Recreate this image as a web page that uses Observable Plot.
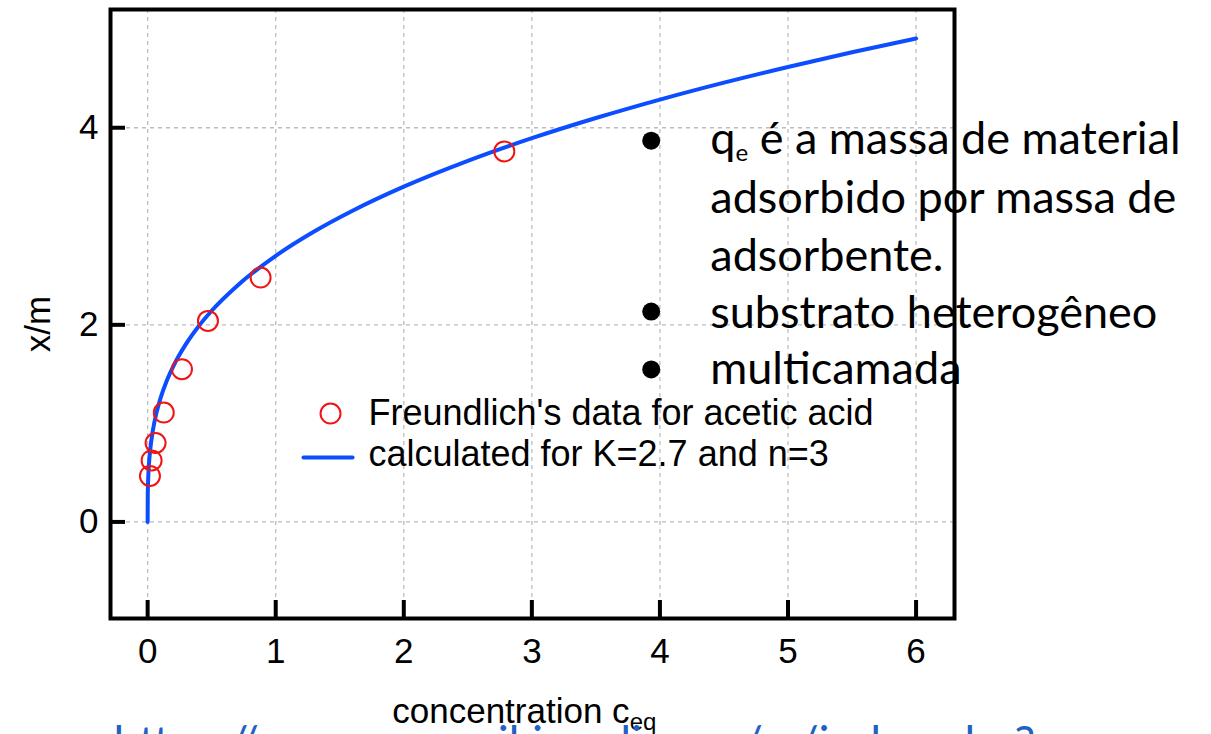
<!DOCTYPE html>
<html>
<head>
<meta charset="utf-8">
<script src="https://cdn.jsdelivr.net/npm/d3@7"></script>
<script src="https://cdn.jsdelivr.net/npm/@observablehq/plot@0.6"></script>
<style>
  html, body { margin: 0; padding: 0; background: #fff; overflow: hidden; }
  #chart svg { display: block; }
</style>
</head>
<body>
<div id="chart"></div>
<script>
// Freundlich's data for acetic acid (red circles)
const cEq = [0.018, 0.031, 0.062, 0.126, 0.268, 0.471, 0.882, 2.785];
const xOverM = [0.467, 0.624, 0.801, 1.11, 1.55, 2.04, 2.48, 3.76];

// Calculated curve (K=2.7, n=3)
const curveX = [0, 0.001, 0.003, 0.005, 0.01, 0.02, 0.04, 0.07, 0.1, 0.15, 0.2, 0.3, 0.4, 0.5, 0.7, 1, 1.3, 1.6, 2, 2.5, 3, 3.5, 4, 4.5, 5, 5.5, 6];
const curveY = [0, 0.27, 0.389, 0.462, 0.582, 0.733, 0.923, 1.113, 1.253, 1.435, 1.579, 1.807, 1.989, 2.143, 2.397, 2.7, 2.947, 3.158, 3.402, 3.664, 3.894, 4.099, 4.286, 4.458, 4.617, 4.766, 4.906];

// Axis ticks
const xTicks = [0, 1, 2, 3, 4, 5, 6];
const yTicks = [0, 2, 4];

// Texts
const legendLabels = ["Freundlich's data for acetic acid", "calculated for K=2.7 and n=3"];
const bulletLines = ["q_{e} é a massa de material", "adsorbido por massa de", "adsorbente.", "substrato heterogêneo", "multicamada"];
const xLabel = "concentration c_{eq}";
const yLabel = "x/m";
const urlText = "https://commons.wikimedia.org/w/index.php?";

const points = cEq.map((c, i) => ({c, q: xOverM[i]}));
const curve = curveX.map((c, i) => ({c, q: curveY[i]}));

const blue = "#0b4dff";
const red = "#f01414";
const bulletY = [3.737, 3.139, 2.551, 1.973, 1.395];
const bulletDotY = [3.869, 2.135, 1.547];

const plot = Plot.plot({
  width: 1211,
  height: 734,
  marginLeft: 110,
  marginRight: 257,
  marginTop: 9,
  marginBottom: 116,
  x: {domain: [-0.29, 6.3]},
  y: {domain: [-0.98, 5.2]},
  style: {fontFamily: "'Liberation Sans', Arial, sans-serif", fontSize: "35px", background: "#fff", overflow: "visible"},
  marks: [
    Plot.ruleX(xTicks, {stroke: "#bdbdbd", strokeWidth: 1.3, strokeDasharray: "4,4"}),
    Plot.ruleY(yTicks, {stroke: "#bdbdbd", strokeWidth: 1.3, strokeDasharray: "4,4"}),
    Plot.line(curve, {x: "c", y: "q", stroke: blue, strokeWidth: 4, curve: "monotone-x"}),
    Plot.dot(points, {x: "c", y: "q", r: 10, stroke: red, strokeWidth: 2, fill: "none"}),
    // legend
    Plot.dot([legendLabels[0]], {x: 1.428, y: 1.10, r: 10, stroke: red, strokeWidth: 2, fill: "none"}),
    Plot.line([[1.217, 0.654], [1.6, 0.654]], {stroke: blue, strokeWidth: 4}),
    Plot.text([legendLabels[0]], {x: 1.724, y: 0.979, text: d => d, textAnchor: "start", lineAnchor: "bottom", fontSize: 36, fill: "#000"}),
    Plot.text([legendLabels[1]], {x: 1.724, y: 0.563, text: d => d, textAnchor: "start", lineAnchor: "bottom", fontSize: 36, fill: "#000"}),
    // frame and inward ticks
    Plot.frame({stroke: "#000", strokeWidth: 4}),
    Plot.ruleX(xTicks, {x: d => d, stroke: "#000", strokeWidth: 4, insetTop: 591}),
    Plot.ruleY(yTicks, {y: d => d, stroke: "#000", strokeWidth: 4, insetRight: 829}),
    Plot.axisX(xTicks, {tickSize: 0, tickPadding: 20, label: null, tickFormat: d3.format("d"), fontSize: 35, fill: "#000"}),
    Plot.axisY(yTicks, {tickSize: 0, tickPadding: 12, label: null, tickFormat: d3.format("d"), fontSize: 35, fill: "#000"}),
    // axis labels
    Plot.text([xLabel], {x: 1.91, frameAnchor: "bottom", dy: 104, text: d => d, textAnchor: "start", lineAnchor: "bottom", fontSize: 35, fill: "#000"}),
    Plot.text([yLabel], {frameAnchor: "left", dx: -72, dy: 10, rotate: -90, text: d => d, textAnchor: "middle", lineAnchor: "middle", fontSize: 35, fill: "#000"}),
    // bullet block
    Plot.dot(bulletDotY, {x: 3.932, y: d => d, r: 9, fill: "#000", stroke: null}),
    Plot.text(bulletLines, {x: 4.393, y: (d, i) => bulletY[i], text: d => d, textAnchor: "start", lineAnchor: "bottom", fontSize: 45, fontFamily: "Lato, 'Open Sans', sans-serif", fill: "#000"}),
    // cut-off URL at bottom
    Plot.text([urlText], {frameAnchor: "bottom-left", dx: 3, dy: 140, text: d => d, textAnchor: "start", lineAnchor: "bottom", fontSize: 46, fontFamily: "Lato, 'Open Sans', sans-serif", fill: "#1f62c4"})
  ]
});

// subscripts: "base_{sub}rest"
plot.querySelectorAll("text").forEach(el => {
  const t = el.textContent;
  const m = t.match(/^(.*?)_\{(.*?)\}(.*)$/);
  if (!m) return;
  const fs = parseFloat(el.getAttribute("font-size") || getComputedStyle(el).fontSize) || 34;
  const shift = Math.round(fs * 0.22);
  const ns = "http://www.w3.org/2000/svg";
  while (el.firstChild) el.removeChild(el.firstChild);
  el.appendChild(document.createTextNode(m[1]));
  const sub = document.createElementNS(ns, "tspan");
  sub.setAttribute("font-size", Math.round(fs * 0.7));
  sub.setAttribute("dy", shift);
  sub.textContent = m[2];
  el.appendChild(sub);
  if (m[3]) {
    const rest = document.createElementNS(ns, "tspan");
    rest.setAttribute("dy", -shift);
    rest.textContent = m[3];
    el.appendChild(rest);
  }
});

document.getElementById("chart").appendChild(plot);
</script>
</body>
</html>
